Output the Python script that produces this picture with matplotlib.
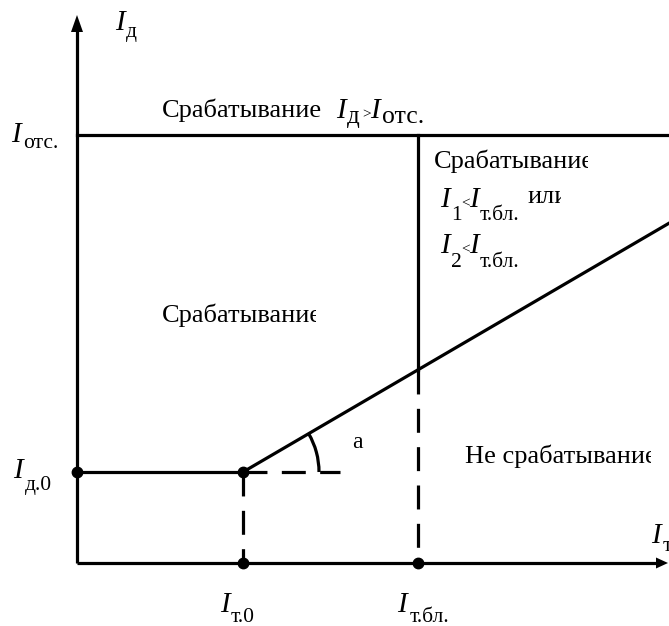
import numpy as np
import matplotlib
matplotlib.use('Agg')
import matplotlib.pyplot as plt
from matplotlib.patches import Arc, Polygon, Rectangle

plt.rcParams['font.family'] = ['Liberation Serif', 'DejaVu Serif']

# характеристика (условные единицы, начало координат - пересечение осей)
I_t0 = 166        # ток начала торможения
I_tbl = 341       # ток блокировки
I_d0 = 91         # начальный ток срабатывания
I_ots = 428       # ток отсечки
k_slope = 0.584   # tg(a)
x_end = 592       # конец наклонного участка
x_max = 591       # острие стрелки оси I_т
y_max = 548       # острие стрелки оси I_д

# начало координат на рисунке (в пикселях)
X0, Y0 = 77, 563


def P(x, y):
    # пиксели рисунка -> координаты осей
    return x - X0, Y0 - y


lw = 2.3
fig = plt.figure(figsize=(6.69, 6.26), dpi=100)
ax = fig.add_axes([0, 0, 1, 1])
ax.set_xlim(-X0, 669 - X0)
ax.set_ylim(Y0 - 626, Y0)
ax.axis('off')

# оси
ax.plot([0, 0], [0, y_max - 15], color='black', lw=lw, solid_capstyle='butt')
ax.plot([0, x_max - 10], [0, 0], color='black', lw=lw, solid_capstyle='butt')
ax.add_patch(Polygon([[-6, y_max - 17], [6, y_max - 17], [0, y_max]],
                     closed=True, color='black', lw=0))
ax.add_patch(Polygon([[x_max - 12, 5.5], [x_max - 12, -5.5], [x_max, 0]],
                     closed=True, color='black', lw=0))

# характеристика
y_end = I_d0 + k_slope * (x_end - I_t0)
y_tbl = I_d0 + k_slope * (I_tbl - I_t0)
ax.plot([0, I_t0], [I_d0, I_d0], color='black', lw=lw)
ax.plot([I_t0, x_end], [I_d0, y_end], color='black', lw=lw)
ax.plot([0, x_end], [I_ots, I_ots], color='black', lw=lw)
ax.plot([I_tbl, I_tbl], [y_tbl, I_ots], color='black', lw=lw)

dash = (7.5, 4.5)
ax.plot([I_t0, I_t0 + 97], [I_d0, I_d0], color='black', lw=lw, dashes=dash)
ax.plot([I_t0, I_t0], [I_d0, 0], color='black', lw=lw, dashes=dash)
ax.plot([I_tbl, I_tbl], [y_tbl, 0], color='black', lw=lw, dashes=dash)

# угол a
ang = np.degrees(np.arctan(k_slope))
ax.add_patch(Arc((I_t0, I_d0), 152, 152, theta1=0, theta2=ang,
                 color='black', lw=lw))
ax.text(*P(352, 448), 'a', fontsize=17, ha='left', va='baseline')

# точки
ax.plot([0, I_t0, I_t0, I_tbl], [I_d0, I_d0, 0, 0], 'o', color='black',
        markersize=7.5)

fs = 19      # обычный текст
fs_I = 21    # буква I
fs_s = 15.5  # индекс


def label(xi, yi, xs, ys, sub, fsub=fs_s):
    ax.text(*P(xi, yi), 'I', fontsize=fs_I, fontstyle='italic',
            ha='left', va='baseline')
    ax.text(*P(xs, ys), sub, fontsize=fsub, ha='left', va='baseline')


def clipped(x, y, s, xclip):
    t = ax.text(*P(x, y), s, fontsize=fs, ha='left', va='baseline',
                clip_on=True)
    x0, y0 = P(x - 5, y + 15)
    t.set_clip_path(Rectangle((x0, y0), xclip - x + 5, 50,
                              transform=ax.transData))


# подписи осей
label(115, 30, 126, 37, 'д')
label(11, 142, 23, 148, 'отс.')
label(13, 478, 25, 490, 'д.0')
label(220, 612, 231, 622, 'т.0')
label(397, 612, 410, 622, 'т.бл.')
label(651, 543, 663, 551, 'т')

# области
ax.text(*P(162, 117), 'Срабатывание', fontsize=fs, ha='left', va='baseline')
label(336, 118, 347, 123, 'д', fsub=18)
ax.text(*P(362, 118), '>', fontsize=11, ha='left', va='baseline')
label(370, 118, 382, 123, 'отс.', fsub=18.5)

clipped(162, 322, 'Срабатывание', 316)
clipped(434, 168, 'Срабатывание', 588)
label(440, 207, 451, 220, '1')
ax.text(*P(461, 207), '<', fontsize=11, ha='left', va='baseline')
label(469, 207, 480, 220, 'т.бл.')
clipped(527, 203, 'или', 561)
label(440, 253, 451, 267, '2')
ax.text(*P(461, 253), '<', fontsize=11, ha='left', va='baseline')
label(469, 253, 480, 267, 'т.бл.')

clipped(465, 463, 'Не срабатывание', 651)

fig.savefig('out.png', dpi=100)
